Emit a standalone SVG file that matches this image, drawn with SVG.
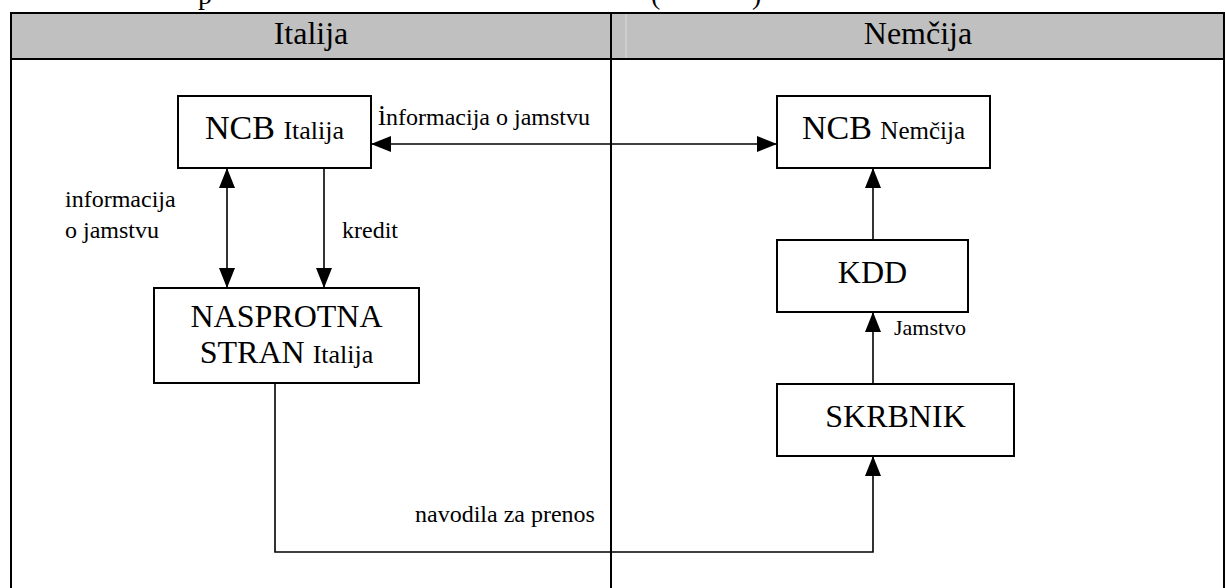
<svg xmlns="http://www.w3.org/2000/svg" width="1226" height="588" viewBox="0 0 1226 588">
<style>
.box{fill:#fff;stroke:#000;stroke-width:2}
.t{font-family:'Liberation Serif','DejaVu Serif',serif;fill:#000}
.conn{fill:none;stroke:#000;stroke-width:1.6}
.grid{fill:none;stroke:#000;stroke-width:2}
</style>
<defs>
<marker id="ah" markerWidth="20" markerHeight="16" refX="20" refY="8" orient="auto-start-reverse" markerUnits="userSpaceOnUse">
<path d="M0,0L20,8L0,16z" fill="#000"/>
</marker>
</defs>
<rect width="1226" height="588" fill="#fff"/>
<g id="caption" font-family="Liberation Serif, serif">
<text class="t" x="198" y="4" font-size="28">p</text>
<text class="t" x="651" y="4" font-size="28">(</text>
<text class="t" x="752" y="4" font-size="28">)</text>
</g>
<g id="table" font-family="Liberation Serif, serif">
<rect x="11" y="13" width="1213" height="46" fill="#c0c0c0"/>
<line x1="626" y1="14" x2="626" y2="58" stroke="#dcdcdc" stroke-width="1"/>
<path class="grid" d="M11,13H1224M11,59H1224M11,12V590M611,12V590M1224,12V590"/>
<text class="t" x="311" y="44" font-size="32" text-anchor="middle">Italija</text>
<text class="t" x="918" y="44" font-size="32" text-anchor="middle">Nemčija</text>
</g>
<g id="connectors" font-family="Liberation Serif, serif">
<line class="conn" x1="371" y1="144" x2="777" y2="144" marker-start="url(#ah)" marker-end="url(#ah)"/>
<line class="conn" x1="227" y1="168" x2="227" y2="288" marker-start="url(#ah)" marker-end="url(#ah)"/>
<line class="conn" x1="324" y1="168" x2="324" y2="288" marker-end="url(#ah)"/>
<line class="conn" x1="873" y1="240" x2="873" y2="168" marker-end="url(#ah)"/>
<line class="conn" x1="873" y1="384" x2="873" y2="312" marker-end="url(#ah)"/>
<path class="conn" d="M275,383V552H873V456" marker-end="url(#ah)"/>
<text class="t" x="378" y="125" font-size="24"><tspan font-size="29">i</tspan>nformacija o jamstvu</text>
<text class="t" x="65" y="207" font-size="24">informacija</text>
<text class="t" x="65" y="238" font-size="24">o jamstvu</text>
<text class="t" x="342" y="238" font-size="24">kredit</text>
<text class="t" x="894" y="335" font-size="22">Jamstvo</text>
<text class="t" x="415" y="522" font-size="24">navodila za prenos</text>
</g>
<g id="ncb-italija" font-family="Liberation Serif, serif">
<rect class="box" x="178" y="96" width="193" height="72"/>
<text class="t" x="274.5" y="139" text-anchor="middle"><tspan font-size="34">NCB </tspan><tspan font-size="26">Italija</tspan></text>
</g>
<g id="ncb-nemcija" font-family="Liberation Serif, serif">
<rect class="box" x="777" y="96" width="213" height="72"/>
<text class="t" x="883.5" y="139" text-anchor="middle"><tspan font-size="34">NCB </tspan><tspan font-size="25">Nemčija</tspan></text>
</g>
<g id="kdd" font-family="Liberation Serif, serif">
<rect class="box" x="777" y="240" width="191" height="72"/>
<text class="t" x="872.5" y="283" font-size="32" text-anchor="middle">KDD</text>
</g>
<g id="nasprotna" font-family="Liberation Serif, serif">
<rect class="box" x="154" y="288" width="265" height="95"/>
<text class="t" x="286.5" y="327" font-size="32" text-anchor="middle">NASPROTNA</text>
<text class="t" x="286.5" y="363" text-anchor="middle"><tspan font-size="32">STRAN </tspan><tspan font-size="26">Italija</tspan></text>
</g>
<g id="skrbnik" font-family="Liberation Serif, serif">
<rect class="box" x="777" y="384" width="237" height="72"/>
<text class="t" x="895.5" y="427" font-size="32" text-anchor="middle">SKRBNIK</text>
</g>
</svg>
